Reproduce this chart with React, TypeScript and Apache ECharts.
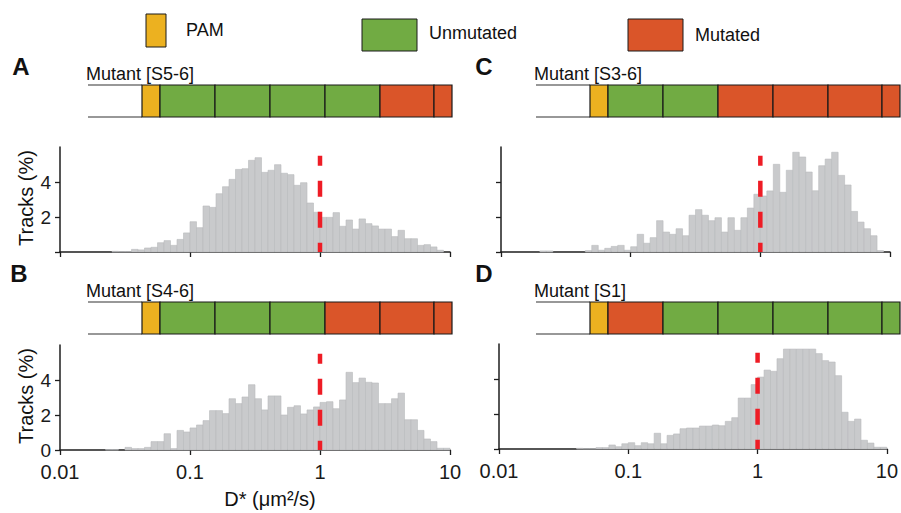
import React, { useEffect, useRef } from 'react';
import * as echarts from 'echarts';

// Histogram bins: 20 per decade, starting at 0.01 µm²/s
const BINS_PER_DECADE = 20;
const FIRST_DECADE = -2;

// Tracks (%) per bin, 60 bins from 0.01 to 10
const tracksS56 = [
  0, 0, 0, 0, 0, 0, 0, 0, 0.04, 0.03,
  0.03, 0.15, 0.12, 0.23, 0.27, 0.53, 0.65, 0.38, 0.72, 1.09,
  1.73, 1.39, 2.63, 2.55, 3.33, 3.73, 4.15, 4.72, 4.76, 5.24,
  5.39, 4.55, 4.67, 4.99, 4.5, 4.42, 3.81, 3.96, 2.8, 2.27,
  1.98, 1.98, 2.25, 1.47, 1.83, 1.31, 1.89, 1.62, 1.49, 1.31,
  1.31, 0.88, 1.24, 0.76, 0.76, 0.38, 0.42, 0.29, 0.1, 0,
];
const tracksS46 = [
  0, 0, 0, 0, 0, 0, 0, 0.02, 0.02, 0,
  0.15, 0.08, 0.08, 0.15, 0.48, 0.48, 0.93, 0.08, 1.12, 1.03,
  1.26, 1.43, 1.68, 2.25, 2.25, 2.08, 2.93, 2.65, 3.03, 3.73,
  2.93, 2.29, 3.09, 3.09, 2.0, 2.44, 2.53, 2.06, 2.29, 2.46,
  2.72, 2.76, 2.36, 2.86, 4.44, 3.85, 4.11, 3.87, 3.83, 2.65,
  2.65, 2.93, 3.25, 1.73, 1.73, 1.12, 0.63, 0.48, 0.1, 0.1,
];
const tracksS36 = [
  0, 0, 0, 0, 0, 0, 0.06, 0.06, 0, 0,
  0, 0, 0, 0.08, 0.38, 0.1, 0.21, 0.32, 0.38, 0.1,
  0.3, 1.01, 0.5, 0.82, 1.79, 1.14, 1.01, 1.33, 0.93, 2.1,
  2.42, 2.1, 1.79, 1.96, 1.14, 1.96, 1.24, 1.96, 2.51, 3.3,
  3.2, 3.49, 5.01, 3.41, 4.67, 5.7, 5.43, 4.57, 3.5, 4.93,
  5.31, 5.7, 4.38, 3.83, 2.32, 1.71, 1.33, 0.93, 0.08, 0,
];
const tracksS1 = [
  0, 0, 0, 0, 0, 0, 0, 0, 0, 0,
  0, 0, 0.04, 0.02, 0.02, 0.08, 0.08, 0.23, 0.13, 0.3,
  0.36, 0.19, 0.36, 0.3, 0.9, 0.3, 0.78, 0.86, 1.16, 1.2,
  1.2, 1.31, 1.31, 1.37, 1.33, 1.58, 1.79, 2.91, 2.91, 3.68,
  4.11, 4.51, 4.44, 5.16, 5.71, 5.71, 5.71, 5.71, 5.71, 5.45,
  5.05, 4.97, 4.19, 2.1, 1.58, 1.71, 0.5, 0.34, 0.1, 0.1,
];

// Threshold D* marked by the dashed line
const THRESHOLD = 1;
const THRESHOLD_TOP = 5.5;

const xTickLabels = ['0.01', '0.1', '1', '10'];
const yTickValues = [0, 2, 4];

// Construct layouts: PAM, then sites S6..S1 (region types)
const constructS56 = ['PAM', 'U', 'U', 'U', 'U', 'M', 'M'];
const constructS46 = ['PAM', 'U', 'U', 'U', 'M', 'M', 'M'];
const constructS36 = ['PAM', 'U', 'U', 'M', 'M', 'M', 'M'];
const constructS1 = ['PAM', 'M', 'U', 'U', 'U', 'U', 'U'];

const legendItems = ['PAM', 'Unmutated', 'Mutated'];

const COLORS: Record<string, string> = {
  PAM: '#ecb120',
  U: '#71ab43',
  M: '#da5529',
};

const FONT = '"Liberation Sans", Arial, sans-serif';
const AXIS_COLOR = '#1e1e1e';

function binData(values: number[]) {
  return values.map((v, k) => {
    const lo = Math.pow(10, FIRST_DECADE + k / BINS_PER_DECADE);
    const hi = Math.pow(10, FIRST_DECADE + (k + 1) / BINS_PER_DECADE);
    return [lo, hi, v];
  });
}

function construct(x0: number, yTop: number, label: string, regions: string[]) {
  const h = 32;
  const widths = [18, 55, 55, 55, 55, 54, 18];
  const els: any[] = [];
  const barStart = x0 + 54;
  els.push({
    type: 'line',
    shape: { x1: x0, y1: yTop, x2: barStart, y2: yTop },
    style: { stroke: '#333', lineWidth: 1.2 },
  });
  els.push({
    type: 'line',
    shape: { x1: x0, y1: yTop + h, x2: barStart, y2: yTop + h },
    style: { stroke: '#333', lineWidth: 1.2 },
  });
  let x = barStart;
  regions.forEach((r, i) => {
    els.push({
      type: 'rect',
      shape: { x, y: yTop, width: widths[i], height: h },
      style: { fill: COLORS[r], stroke: '#1a1a1a', lineWidth: 1.2 },
    });
    x += widths[i];
  });
  els.push({
    type: 'text',
    x: x0 - 2,
    y: yTop - 11,
    style: {
      text: label,
      font: `18px ${FONT}`,
      fill: '#111',
      align: 'left',
      verticalAlign: 'middle',
    },
  });
  return els;
}

function panelLetter(letter: string, x: number, y: number) {
  return {
    type: 'text',
    x,
    y,
    style: {
      text: letter,
      font: `bold 24px ${FONT}`,
      fill: '#111',
      align: 'center',
      verticalAlign: 'middle',
    },
  };
}

function tracksTitle(x: number, y: number) {
  return {
    type: 'text',
    x,
    y,
    rotation: Math.PI / 2,
    style: {
      text: 'Tracks (%)',
      font: `20px ${FONT}`,
      fill: '#111',
      align: 'center',
      verticalAlign: 'middle',
    },
  };
}

export default function App() {
  const ref = useRef<HTMLDivElement>(null);

  useEffect(() => {
    document.body.style.margin = '0';
    if (!ref.current) return;
    const chart = echarts.init(ref.current, undefined, { renderer: 'svg' });

    const grids = [
      { left: 60, top: 147, width: 390, height: 105 }, // A
      { left: 60, top: 345, width: 390, height: 105 }, // B
      { left: 501, top: 147, width: 389, height: 105 }, // C
      { left: 499, top: 344, width: 389, height: 105 }, // D
    ];
    const showXLabels = [false, true, false, true];
    const yLabelValues = [[2, 4], [0, 2, 4], [], []];
    const datasets = [tracksS56, tracksS46, tracksS36, tracksS1];

    const xAxes = grids.map((_, i) => ({
      gridIndex: i,
      type: 'log',
      logBase: 10,
      min: 0.01,
      max: 10,
      axisLine: { show: true, lineStyle: { color: AXIS_COLOR, width: 1.5 } },
      axisTick: { show: true, length: 5, lineStyle: { color: AXIS_COLOR, width: 1.3 } },
      minorTick: { show: false },
      splitLine: { show: false },
      axisLabel: {
        show: showXLabels[i],
        fontSize: 20,
        fontFamily: FONT,
        color: '#1a1a1a',
        margin: 12,
        formatter: (v: number) => {
          const e = Math.round(Math.log10(v)) - FIRST_DECADE;
          return xTickLabels[e] ?? '';
        },
      },
    }));

    const yAxes = grids.map((_, i) => ({
      gridIndex: i,
      type: 'value',
      min: 0,
      max: 6,
      axisLine: { show: true, lineStyle: { color: AXIS_COLOR, width: 1.5 } },
      axisTick: {
        show: true,
        length: 5,
        customValues: yTickValues,
        lineStyle: { color: AXIS_COLOR, width: 1.3 },
      },
      splitLine: { show: false },
      axisLabel: {
        show: yLabelValues[i].length > 0,
        customValues: yLabelValues[i],
        fontSize: 19,
        fontFamily: FONT,
        color: '#1a1a1a',
        margin: 9,
      },
    }));

    const histSeries = datasets.map((vals, i) => ({
      type: 'custom',
      xAxisIndex: i,
      yAxisIndex: i,
      data: binData(vals),
      encode: { x: [0, 1], y: 2 },
      renderItem: (params: any, api: any) => {
        const v = api.value(2);
        if (!(v > 0)) return null;
        const p0 = api.coord([api.value(0), 0]);
        const p1 = api.coord([api.value(1), v]);
        return {
          type: 'rect',
          shape: { x: p0[0], y: p1[1], width: p1[0] - p0[0], height: p0[1] - p1[1] },
          style: { fill: '#c9cacc', stroke: '#b9babc', lineWidth: 0.6 },
        };
      },
      z: 2,
    }));

    const thresholdSeries = grids.map((_, i) => ({
      type: 'line',
      xAxisIndex: i,
      yAxisIndex: i,
      data: [
        [THRESHOLD, THRESHOLD_TOP],
        [THRESHOLD, 0],
      ],
      symbol: 'none',
      lineStyle: { color: '#ee1c25', width: 4.5, type: [16, 15], dashOffset: 6, cap: 'butt' },
      z: 5,
      silent: true,
    }));

    const legendGraphics: any[] = [
      { type: 'rect', shape: { x: 146, y: 14, width: 20, height: 33 }, style: { fill: COLORS.PAM, stroke: '#1a1a1a', lineWidth: 1 } },
      { type: 'rect', shape: { x: 362, y: 19, width: 55, height: 32 }, style: { fill: COLORS.U, stroke: '#1a1a1a', lineWidth: 1 } },
      { type: 'rect', shape: { x: 628, y: 19, width: 55, height: 32 }, style: { fill: COLORS.M, stroke: '#1a1a1a', lineWidth: 1 } },
      { type: 'text', x: 186, y: 30, style: { text: legendItems[0], font: `18px ${FONT}`, fill: '#111', verticalAlign: 'middle' } },
      { type: 'text', x: 429, y: 33, style: { text: legendItems[1], font: `18px ${FONT}`, fill: '#111', verticalAlign: 'middle' } },
      { type: 'text', x: 695, y: 35, style: { text: legendItems[2], font: `18px ${FONT}`, fill: '#111', verticalAlign: 'middle' } },
    ];

    const graphics = [
      ...legendGraphics,
      panelLetter('A', 21, 66),
      panelLetter('B', 19, 273),
      panelLetter('C', 484, 66),
      panelLetter('D', 484, 273),
      ...construct(88, 85, 'Mutant [S5-6]', constructS56),
      ...construct(88, 302, 'Mutant [S4-6]', constructS46),
      ...construct(536, 85, 'Mutant [S3-6]', constructS36),
      ...construct(536, 302, 'Mutant [S1]', constructS1),
      tracksTitle(26, 198),
      tracksTitle(26, 396),
      {
        type: 'text',
        x: 270,
        y: 499,
        style: {
          text: 'D* (μm²/s)',
          font: `20px ${FONT}`,
          fill: '#111',
          align: 'center',
          verticalAlign: 'middle',
        },
      },
    ];

    chart.setOption({
      animation: false,
      backgroundColor: '#ffffff',
      grid: grids,
      xAxis: xAxes,
      yAxis: yAxes,
      series: [...histSeries, ...thresholdSeries],
      graphic: { elements: graphics },
    });

    return () => chart.dispose();
  }, []);

  return <div ref={ref} style={{ width: 901, height: 513, overflow: 'hidden' }} />;
}
